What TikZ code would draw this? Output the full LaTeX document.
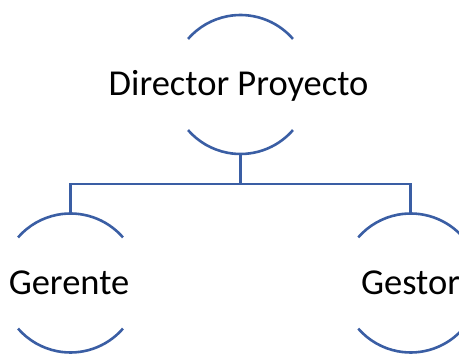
\documentclass[tikz,border=0pt]{standalone}
\usepackage{fontspec}
\setmainfont{Carlito}
\definecolor{lineblue}{RGB}{58,94,164}
\begin{document}
\begin{tikzpicture}[x=1pt,y=1pt,
  circ/.style={shape=circle,minimum size=139pt,inner sep=0pt,outer sep=0pt},
  arcline/.style={draw=lineblue,line width=2.6pt},
  conn/.style={draw=lineblue,line width=2.6pt},
  lbl/.style={font=\fontsize{36.5}{42}\selectfont,text=black,inner sep=0pt,anchor=base}]
\useasboundingbox (0,0) rectangle (459,354);
\node[circ] (top) at (240.5,269.5) {};
\node[circ] (ger) at (70.5,71) {};
\node[circ] (ges) at (410.7,71) {};
\foreach \n in {top,ger,ges}{
  \draw[arcline] (\n.41) arc[start angle=41,end angle=139,radius=69.5pt];
  \draw[arcline] (\n.-41) arc[start angle=-41,end angle=-139,radius=69.5pt];
}
\node[lbl] (toptxt) at (238.5,258) {Director Proyecto};
\node[lbl] (gertxt) at (69,59) {Gerente};
\node[lbl] (gestxt) at (410.5,59) {Gestor};
\coordinate (j) at (240.5,170);
\draw[conn] (top.south) -- (j);
\draw[conn] (j) -| (ger.north);
\draw[conn] (j) -| (ges.north);
\end{tikzpicture}
\end{document}
